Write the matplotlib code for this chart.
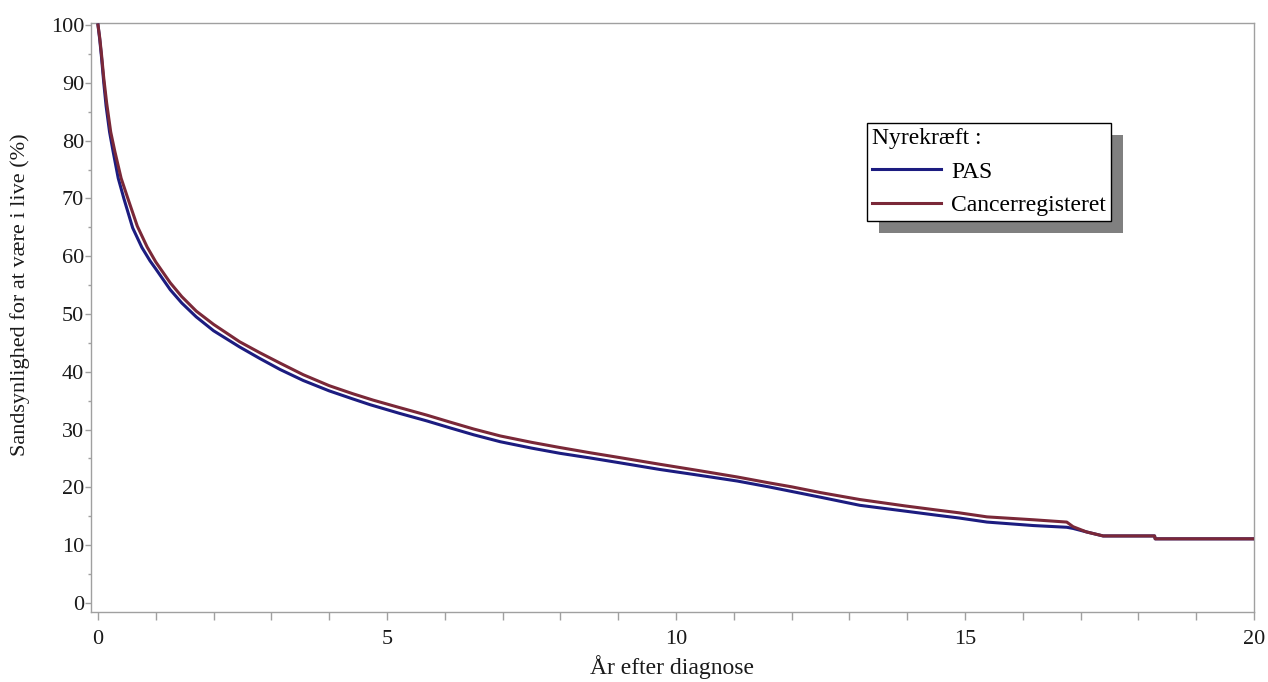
import matplotlib
matplotlib.use("Agg")
import matplotlib.pyplot as plt
from matplotlib.patches import Rectangle
from matplotlib.ticker import MultipleLocator

plt.rcParams['font.family'] = ['Liberation Serif', 'DejaVu Serif']

# Data
pas_t = [0, 0.03, 0.06, 0.1, 0.14, 0.2, 0.26, 0.35, 0.45, 0.6, 0.76, 0.9, 1.0, 1.25,
         1.45, 1.7, 2.0, 2.45, 2.8, 3.15, 3.55, 4.0, 4.41, 4.71, 5.22, 5.69, 6.09,
         6.5, 6.96, 7.5, 7.99, 8.51, 9.0, 9.72, 10.4, 11.06, 11.6, 12.0, 12.5, 13.18,
         13.96, 14.5, 14.9, 15.38, 16.18, 16.76, 16.87, 17.1, 17.39, 18.28, 18.29, 20]
pas_s = [100, 97.5, 94.5, 90, 86, 81.5, 78.2, 73.5, 69.9, 64.9, 61.5, 59.2, 57.8, 54.2,
         51.9, 49.5, 47.1, 44.3, 42.3, 40.4, 38.5, 36.7, 35.3, 34.3, 32.8, 31.5, 30.3,
         29.1, 27.9, 26.8, 25.9, 25.1, 24.3, 23.1, 22.1, 21.1, 20.1, 19.3, 18.3, 16.9,
         15.9, 15.2, 14.7, 14.0, 13.4, 13.1, 12.9, 12.3, 11.6, 11.6, 11.1, 11.1]

cr_t = [0, 0.03, 0.06, 0.1, 0.15, 0.22, 0.29, 0.4, 0.52, 0.68, 0.85, 1.0, 1.25, 1.45,
        1.7, 2.0, 2.45, 2.8, 3.15, 3.55, 4.0, 4.41, 4.76, 5.22, 5.69, 6.09, 6.5,
        6.96, 7.5, 7.99, 8.51, 9.0, 9.72, 10.4, 11.06, 11.6, 12.0, 12.5, 13.18,
        13.96, 14.5, 14.9, 15.38, 16.18, 16.76, 16.87, 17.1, 17.39, 18.28, 18.29, 20]
cr_s = [100, 97.8, 95, 90.8, 86.5, 81.5, 78.2, 73.5, 69.9, 65.2, 61.6, 59.0, 55.4, 53.0,
        50.5, 48.2, 45.2, 43.3, 41.5, 39.5, 37.6, 36.2, 35.1, 33.8, 32.5, 31.3, 30.1,
        28.9, 27.8, 26.9, 26.0, 25.2, 24.0, 22.9, 21.8, 20.8, 20.1, 19.1, 17.9,
        16.8, 16.1, 15.6, 14.9, 14.4, 14.0, 13.2, 12.3, 11.6, 11.6, 11.1, 11.1]

series_labels = ['PAS', 'Cancerregisteret']
legend_title = 'Nyrekræft :'
x_label = 'År efter diagnose'
y_label = 'Sandsynlighed for at være i live (%)'
x_major = [0, 5, 10, 15, 20]
y_major = [0, 10, 20, 30, 40, 50, 60, 70, 80, 90, 100]

W, H = 1268, 682
fig = plt.figure(figsize=(W / 100, H / 100), dpi=100)
ax = fig.add_axes([91 / W, 1 - 612 / H, (1254 - 91) / W, (612 - 23) / H])

blue = '#1c1c80'
red = '#7a2838'
ax.plot(pas_t, pas_s, color=blue, lw=2.2, label=series_labels[0], zorder=3)
ax.plot(cr_t, cr_s, color=red, lw=2.2, label=series_labels[1], zorder=4)

ax.set_xlim(-0.121, 20)
ax.set_ylim(-1.56, 100.35)
ax.set_xticks(x_major)
ax.xaxis.set_minor_locator(MultipleLocator(1))
ax.set_yticks(y_major)
ax.yaxis.set_minor_locator(MultipleLocator(5))

spine_c = '#a0a0a0'
for s in ax.spines.values():
    s.set_color(spine_c)
    s.set_linewidth(1.0)

txt_c = '#1a1a1a'
ax.tick_params(axis='x', which='both', direction='out', length=6, width=1,
               color=spine_c, labelsize=16, pad=7, labelcolor=txt_c)
ax.tick_params(axis='y', which='major', direction='out', length=4, width=1,
               color=spine_c, labelsize=16, pad=1, labelcolor=txt_c)
ax.tick_params(axis='y', which='minor', direction='out', length=2, width=1,
               color=spine_c)

ax.set_xlabel(x_label, fontsize=17, labelpad=4, color=txt_c)
ax.set_ylabel(y_label, fontsize=16, color=txt_c, va='center')
ax.yaxis.set_label_coords((20 - 91) / 1163, (612 - 295) / 589)

leg = ax.legend(title=legend_title, loc='upper left',
                bbox_to_anchor=(867 / W, 1 - 123 / H), bbox_transform=fig.transFigure,
                frameon=True, fancybox=False, edgecolor='black', framealpha=1,
                fontsize=17, title_fontsize=17, alignment='left',
                handlelength=2.9, handletextpad=0.45, borderpad=0.22,
                labelspacing=0.5, borderaxespad=0)
leg.get_frame().set_linewidth(1.0)
leg.set_zorder(6)

fig.canvas.draw()
bb = leg.get_window_extent()
shadow = Rectangle((bb.x0 + 12, bb.y0 - 12), bb.width, bb.height,
                   transform=None, facecolor='#808080', edgecolor='none', zorder=5)
ax.add_artist(shadow)

fig.savefig('out.png', dpi=100)
